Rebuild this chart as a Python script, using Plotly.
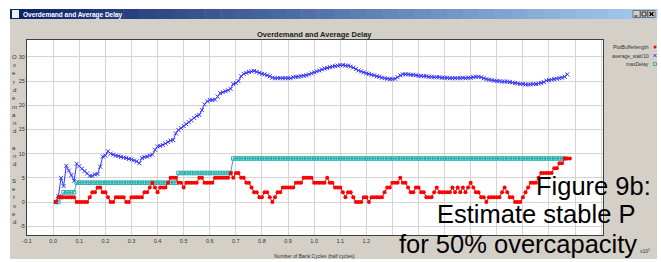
import plotly.graph_objects as go

# ---------------- data ----------------
# samples every 0.01 (x10^2 bank cycles), first sample at 0.01
buffer_length = [
    0, 1, 1, 1, 1, 1, 1, 1, 0, 0,
    0, 0, 0, 1, 2, 2, 3, 3, 2, 2,
    1, 0, 0, 1, 1, 1, 1, 0, 0, 1,
    1, 1, 1, 1, 2, 2, 3, 4, 3, 2,
    3, 3, 3, 4, 5, 5, 5, 4, 4, 3,
    4, 4, 4, 4, 4, 5, 5, 4, 4, 4,
    4, 5, 5, 5, 5, 5, 5, 6, 5, 6,
    6, 5, 5, 4, 4, 3, 2, 2, 1, 1,
    2, 2, 1, 0, 1, 2, 2, 3, 3, 3,
    3, 3, 4, 4, 4, 5, 5, 5, 5, 4,
    4, 4, 4, 4, 5, 4, 4, 3, 3, 3,
    2, 1, 2, 2, 1, 0, 0, 0, 1, 1,
    0, 1, 1, 1, 1, 1, 2, 3, 3, 4,
    4, 4, 5, 4, 4, 3, 2, 2, 3, 3,
    2, 2, 1, 1, 1, 2, 3, 2, 2, 2,
    2, 2, 3, 2, 3, 2, 3, 2, 3, 4,
    3, 2, 2, 1, 1, 0, 1, 1, 1, 1,
    1, 2, 3, 2, 1, 1, 0, 0, 0, 1,
    2, 3, 4, 4, 4, 5, 6, 6, 6, 6,
    6, 7, 7, 8, 8, 9, 9, 9,
]

average_wait_10 = [
    0.0, 1.2, 5.0, 3.3, 7.5, 6.5, 5.6, 4.4, 7.9, 7.4,
    6.9, 6.4, 5.9, 5.4, 5.4, 5.7, 5.8, 7.3, 9.4, 9.6,
    10.5, 10.0, 9.8, 9.6, 9.5, 9.3, 9.2, 9.1, 8.9, 8.8,
    8.6, 8.4, 8.0, 9.1, 9.3, 9.4, 9.6, 9.8, 10.8, 11.5,
    11.6, 11.8, 12.1, 12.4, 12.7, 12.8, 14.2, 14.9, 15.3, 15.7,
    16.1, 16.5, 16.9, 17.4, 17.8, 18.0, 19.0, 20.2, 20.8, 21.1,
    21.1, 21.2, 21.8, 22.5, 22.7, 22.9, 23.1, 23.4, 24.4, 24.6,
    25.0, 26.0, 26.5, 26.7, 26.9, 27.0, 27.1, 26.9, 26.7, 26.5,
    26.4, 26.2, 26.0, 25.7, 25.6, 25.6, 25.6, 25.6, 25.6, 25.6,
    25.6, 25.8, 25.9, 25.9, 26.0, 26.1, 26.2, 26.4, 26.6, 26.8,
    27.0, 27.2, 27.4, 27.6, 27.7, 27.9, 28.0, 28.1, 28.2, 28.3,
    28.3, 28.2, 28.2, 28.0, 27.8, 27.5, 27.2, 27.0, 26.8, 26.6,
    26.5, 26.3, 26.2, 26.0, 25.9, 25.7, 25.6, 25.5, 25.4, 25.4,
    25.5, 25.8, 26.2, 26.4, 26.4, 26.4, 26.3, 26.3, 26.2, 26.1,
    26.1, 26.0, 26.0, 25.9, 25.9, 25.8, 25.8, 25.8, 25.7, 25.7,
    25.7, 25.6, 25.6, 25.6, 25.6, 25.6, 25.7, 25.6, 25.7, 25.7,
    25.8, 25.9, 25.9, 25.8, 25.6, 25.4, 25.3, 25.2, 25.1, 25.0,
    25.0, 24.9, 24.9, 24.9, 24.8, 24.7, 24.6, 24.5, 24.4, 24.4,
    24.3, 24.3, 24.3, 24.4, 24.4, 24.5, 24.6, 24.8, 25.1, 25.2,
    25.3, 25.4, 25.5, 25.6, 25.7, 25.9, 26.4,
]

max_delay = [
    0, 0, 1, 2, 2, 2, 2, 2, 4, 4,
    4, 4, 4, 4, 4, 4, 4, 4, 4, 4,
    4, 4, 4, 4, 4, 4, 4, 4, 4, 4,
    4, 4, 4, 4, 4, 4, 4, 4, 4, 4,
    4, 4, 4, 4, 4, 4, 4, 6, 6, 6,
    6, 6, 6, 6, 6, 6, 6, 6, 6, 6,
    6, 6, 6, 6, 6, 6, 6, 6, 9, 9,
    9, 9, 9, 9, 9, 9, 9, 9, 9, 9,
    9, 9, 9, 9, 9, 9, 9, 9, 9, 9,
    9, 9, 9, 9, 9, 9, 9, 9, 9, 9,
    9, 9, 9, 9, 9, 9, 9, 9, 9, 9,
    9, 9, 9, 9, 9, 9, 9, 9, 9, 9,
    9, 9, 9, 9, 9, 9, 9, 9, 9, 9,
    9, 9, 9, 9, 9, 9, 9, 9, 9, 9,
    9, 9, 9, 9, 9, 9, 9, 9, 9, 9,
    9, 9, 9, 9, 9, 9, 9, 9, 9, 9,
    9, 9, 9, 9, 9, 9, 9, 9, 9, 9,
    9, 9, 9, 9, 9, 9, 9, 9, 9, 9,
    9, 9, 9, 9, 9, 9, 9, 9, 9, 9,
    9, 9, 9, 9, 9, 9,
]

x_start = 0.01
x_step = 0.01
# labelled ticks (labels right of 1.2 are hidden under the slide's overlay text)
x_ticks = [-0.1, 0.0, 0.1, 0.2, 0.3, 0.4, 0.5, 0.6, 0.7, 0.8, 0.9, 1.0, 1.1, 1.2]
x_tick_labels = ["-0.1", "0.0", "0.1", "0.2", "0.3", "0.4", "0.5", "0.6", "0.7",
                 "0.8", "0.9", "1.0", "1.1", "1.2"]
y_ticks = [-5, 0, 5, 10, 15, 20, 25, 30]
y_tick_labels = ["-5", "0", "5", "10", "15", "20", "25", "30"]

series_names = ["PlotBufferlength", "average_wait/10", "maxDelay"]
chart_title = "Overdemand and Average Delay"
x_title = "Number of Bank Cycles (half cycles)"
y_title = "Overdemand and Served"
overlay_lines = ["Figure 9b:", "Estimate stable P", "for 50% overcapacity"]

# ---------------- geometry helpers (pixels -> paper) ----------------
W, H = 661, 262
L, R, T, B = 27, 603, 40, 235


def px(x):
    return (x - L) / (R - L)


def py(y):
    return (B - y) / (B - T)


RED = "#ff0000"
BLUE = "#3535ff"
CYAN = "#2bb0b0"
GRAY = "#d4d0c8"
GRID = "#d4d4d4"

fig = go.Figure()

fig.add_trace(go.Scatter(
    y=max_delay, x0=x_start, dx=x_step, mode="lines+markers",
    line=dict(color=CYAN, width=1),
    marker=dict(symbol="square-open", size=3.5, color=CYAN, line=dict(width=1)),
    name=series_names[2]))
fig.add_trace(go.Scatter(
    y=average_wait_10, x0=x_start, dx=x_step, mode="lines+markers",
    line=dict(color=BLUE, width=1),
    marker=dict(symbol="x-thin-open", size=4, color=BLUE, line=dict(width=1, color=BLUE)),
    name=series_names[1]))
fig.add_trace(go.Scatter(
    y=buffer_length, x0=x_start, dx=x_step, mode="lines+markers",
    line=dict(color=RED, width=1),
    marker=dict(symbol="circle", size=4, color=RED),
    name=series_names[0]))

shapes = []
shapes.append(dict(type="rect", xref="paper", yref="paper", layer="below",
                   x0=px(10), x1=px(657), y0=py(259), y1=py(9),
                   fillcolor=GRAY, line=dict(width=0)))
shapes.append(dict(type="rect", xref="paper", yref="paper", layer="below",
                   x0=0, x1=1, y0=0, y1=1, fillcolor="white", line=dict(width=0)))
# title bar gradient (decorative)
c0 = (10, 36, 106)
c1 = (166, 202, 240)
nseg = 40
for k in range(nseg):
    t = k / (nseg - 1)
    col = tuple(int(c0[j] + (c1[j] - c0[j]) * t) for j in range(3))
    xa = 10 + (657 - 10) * k / nseg
    xb = 10 + (657 - 10) * (k + 1) / nseg + 0.5
    shapes.append(dict(type="rect", xref="paper", yref="paper", layer="below",
                       x0=px(xa), x1=px(xb), y0=py(19), y1=py(9),
                       fillcolor="rgb(%d,%d,%d)" % col, line=dict(width=0)))
shapes.append(dict(type="rect", xref="paper", yref="paper",
                   x0=px(12), x1=px(19), y0=py(18), y1=py(10),
                   fillcolor="#f0f0f0", line=dict(width=0)))
for bx in (633, 640.5, 648):
    shapes.append(dict(type="rect", xref="paper", yref="paper",
                       x0=px(bx), x1=px(bx + 7), y0=py(17.5), y1=py(10.5),
                       fillcolor=GRAY, line=dict(width=0.6, color="#404040")))
shapes.append(dict(type="line", xref="paper", yref="paper",
                   x0=px(634.5), x1=px(637.5), y0=py(16), y1=py(16),
                   line=dict(width=1, color="black")))
shapes.append(dict(type="rect", xref="paper", yref="paper",
                   x0=px(642), x1=px(646), y0=py(16), y1=py(12),
                   line=dict(width=0.8, color="black")))
shapes.append(dict(type="line", xref="paper", yref="paper",
                   x0=px(649.5), x1=px(653.5), y0=py(16), y1=py(12),
                   line=dict(width=1.2, color="black")))
shapes.append(dict(type="line", xref="paper", yref="paper",
                   x0=px(649.5), x1=px(653.5), y0=py(12), y1=py(16),
                   line=dict(width=1.2, color="black")))
# legend markers
shapes.append(dict(type="circle", xref="paper", yref="paper",
                   x0=px(653.5), x1=px(656.5), y0=py(48.5), y1=py(45.5),
                   fillcolor=RED, line=dict(width=0)))
shapes.append(dict(type="line", xref="paper", yref="paper",
                   x0=px(653.5), x1=px(656.5), y0=py(57), y1=py(54),
                   line=dict(width=1, color=BLUE)))
shapes.append(dict(type="line", xref="paper", yref="paper",
                   x0=px(653.5), x1=px(656.5), y0=py(54), y1=py(57),
                   line=dict(width=1, color=BLUE)))
shapes.append(dict(type="rect", xref="paper", yref="paper",
                   x0=px(653.5), x1=px(656.5), y0=py(65.5), y1=py(62.5),
                   line=dict(width=1, color=CYAN)))

ann = []


def note(text, x, y, size, color="#303030", xanchor="center", family="Arial"):
    ann.append(dict(text=text, x=px(x), y=py(y), xref="paper", yref="paper",
                    xanchor=xanchor, yanchor="middle", showarrow=False,
                    borderpad=0,
                    font=dict(family=family, size=size, color=color)))


note("<b>" + chart_title + "</b>", 22, 14.5, 6.5, "white", "left")
note("<b>" + chart_title + "</b>", 314, 34, 7.5, "#202020")
note(x_title, 314, 255.5, 5)
# y title: one letter per line, stacked from top
ly = 57.0
for ch in y_title:
    if ch != " ":
        note(ch, 14, ly, 6)
    ly += 8.25
for k, nm in enumerate(series_names):
    note(nm, 650, [47, 55.5, 64][k], 5, xanchor="right")
note("x10<sup>2</sup>", 651, 251, 5, xanchor="right")
big_family = "Liberation Sans, Arial"
note(overlay_lines[0], 652, 185.5, 25.5, "black", "right", big_family)
note(overlay_lines[1], 636, 214, 25.5, "black", "right", big_family)
note(overlay_lines[2], 638, 244, 25.5, "black", "right", big_family)

fig.update_layout(
    width=W, height=H,
    margin=dict(l=L, r=W - R, t=T, b=H - B, pad=0, autoexpand=False),
    paper_bgcolor="white", plot_bgcolor="white",
    showlegend=False,
    shapes=shapes, annotations=ann,
    xaxis=dict(range=[-0.1004, 2.107], tickvals=x_ticks, ticktext=x_tick_labels,
               showgrid=True, gridcolor=GRID, gridwidth=1, zeroline=False,
               minor=dict(tick0=0.0, dtick=0.1, showgrid=True, gridcolor=GRID,
                          gridwidth=1, ticks=""),
               showline=True, linecolor="#404040", linewidth=1, mirror=True,
               ticks="", automargin=False,
               tickfont=dict(family="Arial", size=5.5, color="#303030")),
    yaxis=dict(range=[-6.82, 33.5], tickvals=y_ticks, ticktext=y_tick_labels,
               showgrid=True, gridcolor=GRID, gridwidth=1, zeroline=False,
               showline=True, linecolor="#404040", linewidth=1, mirror=True,
               ticks="", automargin=False,
               tickfont=dict(family="Arial", size=5.5, color="#303030")),
)

fig.write_html("out.html", config={"displayModeBar": False},
               post_script="document.body.style.margin='0';document.body.style.overflow='hidden';")
